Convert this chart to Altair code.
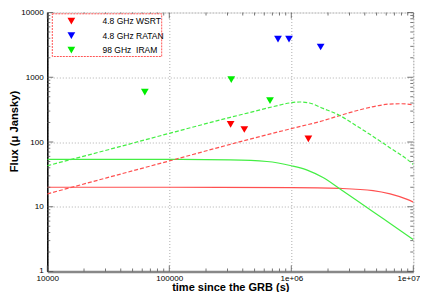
import altair as alt
import pandas as pd

# ---------------- data ----------------
# observed upper limits (time s, flux microJy)
wsrt_t = [3.18e5, 4.12e5, 1.38e6]
wsrt_f = [187, 156, 112]
ratan_t = [7.78e5, 9.58e5, 1.74e6]
ratan_f = [3870, 3870, 2930]
iram_t = [6.3e4, 3.22e5, 6.69e5]
iram_f = [590, 920, 436]
series_names = ["4.8 GHz WSRT", "4.8 GHz RATAN", "98 GHz\u00a0 IRAM"]
series_colors = ["#ff0000", "#0000ff", "#00ee00"]

# model curves
red_dash_t = [1e4, 3.16e4, 1e5, 3.16e5, 1e6, 1.78e6, 2.51e6, 3.55e6, 5.01e6, 6.31e6, 7.94e6, 1e7]
red_dash_f = [15.8, 28.4, 51, 92, 161, 211, 257, 310, 360, 385, 390, 375]
green_dash_t = [1e4, 3.16e4, 1e5, 3.16e5, 5.62e5, 7.94e5, 1e6, 1.17e6, 1.41e6, 1.82e6, 2.51e6, 3.47e6, 4.68e6, 6.46e6, 8.91e6, 1e7]
green_dash_f = [43, 76, 136, 240, 315, 370, 405, 415, 400, 330, 255, 175, 122, 81, 54, 45]
green_solid_t = [1e4, 1e5, 3.16e5, 6.31e5, 1e6, 1.35e6, 1.82e6, 2.51e6, 3.47e6, 4.68e6, 6.46e6, 1e7]
green_solid_f = [54, 54, 53, 50, 43, 36.8, 28.2, 18.8, 12.4, 8.4, 5.5, 3.1]
red_solid_t = [1e4, 1e5, 1e6, 2.51e6, 4.68e6, 6.46e6, 8.91e6, 1e7]
red_solid_f = [20, 20, 19.8, 19.2, 17.8, 15.8, 13, 11.8]

x_major = [1e4, 1e5, 1e6, 1e7]
x_labels = ["10000", "100000", "1e+06", "1e+07"]
y_major = [1, 10, 100, 1000, 10000]
y_labels = ["1", "10", "100", "1000", "10000"]
x_minor = [m * 10 ** e for e in (4, 5, 6) for m in range(2, 10)]
y_minor = [m * 10 ** e for e in (0, 1, 2, 3) for m in range(2, 10)]

# ---------------- chart ----------------
W, H = 366, 259
TOP = 4.5
FONT = "Liberation Sans"

xs = alt.Scale(type="log", domain=[1e4, 1e7], nice=False)
ys = alt.Scale(type="log", domain=[1, 1e4], nice=False)

x_lab_expr = "[" + ",".join("'%s'" % s for s in x_labels) + "][round(log(datum.value)/LN10)-4]"
y_lab_expr = "[" + ",".join("'%s'" % s for s in y_labels) + "][round(log(datum.value)/LN10)]"

x_axis = alt.Axis(values=x_major, labelExpr=x_lab_expr, ticks=False, tickSize=0,
                  grid=True, gridDash=[1, 2], gridColor="#9a9a9a", gridWidth=0.8,
                  domainColor="#888888", domainWidth=2.5,
                  labelFont=FONT, labelFontSize=8.1, labelColor="black", labelPadding=3,
                  labelFlush=False, labelOverlap=False,
                  labelOffset={"condition": {"test": "datum.value > 5e6", "value": -5}, "value": 0},
                  title="time since the GRB (s)", titleFont=FONT, titleFontSize=11,
                  titleFontWeight="bold", titleColor="black",
                  titleX=W / 2, titleY=19.3, titleBaseline="alphabetic", titleAlign="center")
y_axis = alt.Axis(values=y_major, labelExpr=y_lab_expr, ticks=False, tickSize=0,
                  grid=True, gridDash=[1, 2], gridColor="#9a9a9a", gridWidth=0.8,
                  domainColor="black", domainWidth=1.5,
                  labelFont=FONT, labelFontSize=8.1, labelColor="black", labelPadding=4,
                  labelFlush=False, labelOverlap=False,
                  labelOffset={"condition": {"test": "datum.value < 2", "value": -1.5}, "value": 0},
                  title="Flux (\u03bc Jansky)", titleFont=FONT, titleFontSize=11.2,
                  titleFontWeight="bold", titleColor="black",
                  titleX=-33.3, titleY=118.5, titleAngle=270, titleAlign="center",
                  titleBaseline="middle")


def X(field="t"):
    return alt.X(field + ":Q", scale=xs, axis=x_axis)


def Y(field="f"):
    return alt.Y(field + ":Q", scale=ys, axis=y_axis)


def curve(t, f, color, dashed):
    df = pd.DataFrame({"t": t, "f": f})
    kw = dict(color=color, strokeWidth=1.2, interpolate="monotone", clip=True)
    if dashed:
        kw["strokeDash"] = [4, 2]
    return alt.Chart(df).mark_line(**kw).encode(x=X(), y=Y())


points_df = pd.DataFrame({
    "t": wsrt_t + ratan_t + iram_t,
    "f": wsrt_f + ratan_f + iram_f,
    "s": [series_names[0]] * len(wsrt_t) + [series_names[1]] * len(ratan_t) + [series_names[2]] * len(iram_t),
})

points = alt.Chart(points_df).mark_point(shape="triangle-down", filled=True, size=60, opacity=1).encode(
    x=X(), y=Y(),
    color=alt.Color("s:N", scale=alt.Scale(domain=series_names, range=series_colors),
                    legend=alt.Legend(title=None, orient="none", legendX=5, legendY=1.3,
                                      padding=3, symbolType="triangle-down", symbolSize=60,
                                      symbolOffset=11.8, labelOffset=26.9, rowPadding=5.5,
                                      labelFont=FONT, labelFontSize=8.5, labelColor="black",
                                      symbolStrokeWidth=0, symbolOpacity=1)),
)

# legend box (decoration)
legend_box = alt.Chart(alt.Data(values=[{}])).mark_rect(
    fill="white", stroke="#ff5555", strokeWidth=1, strokeDash=[2, 1]
).encode(x=alt.value(5), x2=alt.value(114.4), y=alt.value(1.3), y2=alt.value(44))


def xticks(vals, length):
    df = pd.DataFrame({"t": vals})
    base = alt.Chart(df).mark_rule(color="#555555", strokeWidth=0.8)
    return (base.encode(x=X(), y=alt.value(H), y2=alt.value(H - length)) +
            base.encode(x=X(), y=alt.value(0), y2=alt.value(length)))


def yticks(vals, length):
    df = pd.DataFrame({"f": vals})
    base = alt.Chart(df).mark_rule(color="#555555", strokeWidth=0.8)
    return (base.encode(y=Y(), x=alt.value(0), x2=alt.value(length)) +
            base.encode(y=Y(), x=alt.value(W), x2=alt.value(W - length)))


chart = alt.layer(
    curve(red_solid_t, red_solid_f, "#ff5050", False),
    curve(green_solid_t, green_solid_f, "#44ee44", False),
    curve(red_dash_t, red_dash_f, "#ff5050", True),
    curve(green_dash_t, green_dash_f, "#44ee44", True),
    xticks(x_minor, 3), xticks(x_major, 6),
    yticks(y_minor, 3), yticks(y_major, 6),
    legend_box,
    points,
).properties(
    width=W, height=H,
    autosize=alt.AutoSizeParams(type="none"),
    padding={"left": 39.3, "top": TOP, "right": 6.7, "bottom": 284 - TOP - H},
).configure_view(stroke="#888888", strokeWidth=2).configure(background="white")

chart.save("out.html", embed_options={"renderer": "svg", "actions": False})
